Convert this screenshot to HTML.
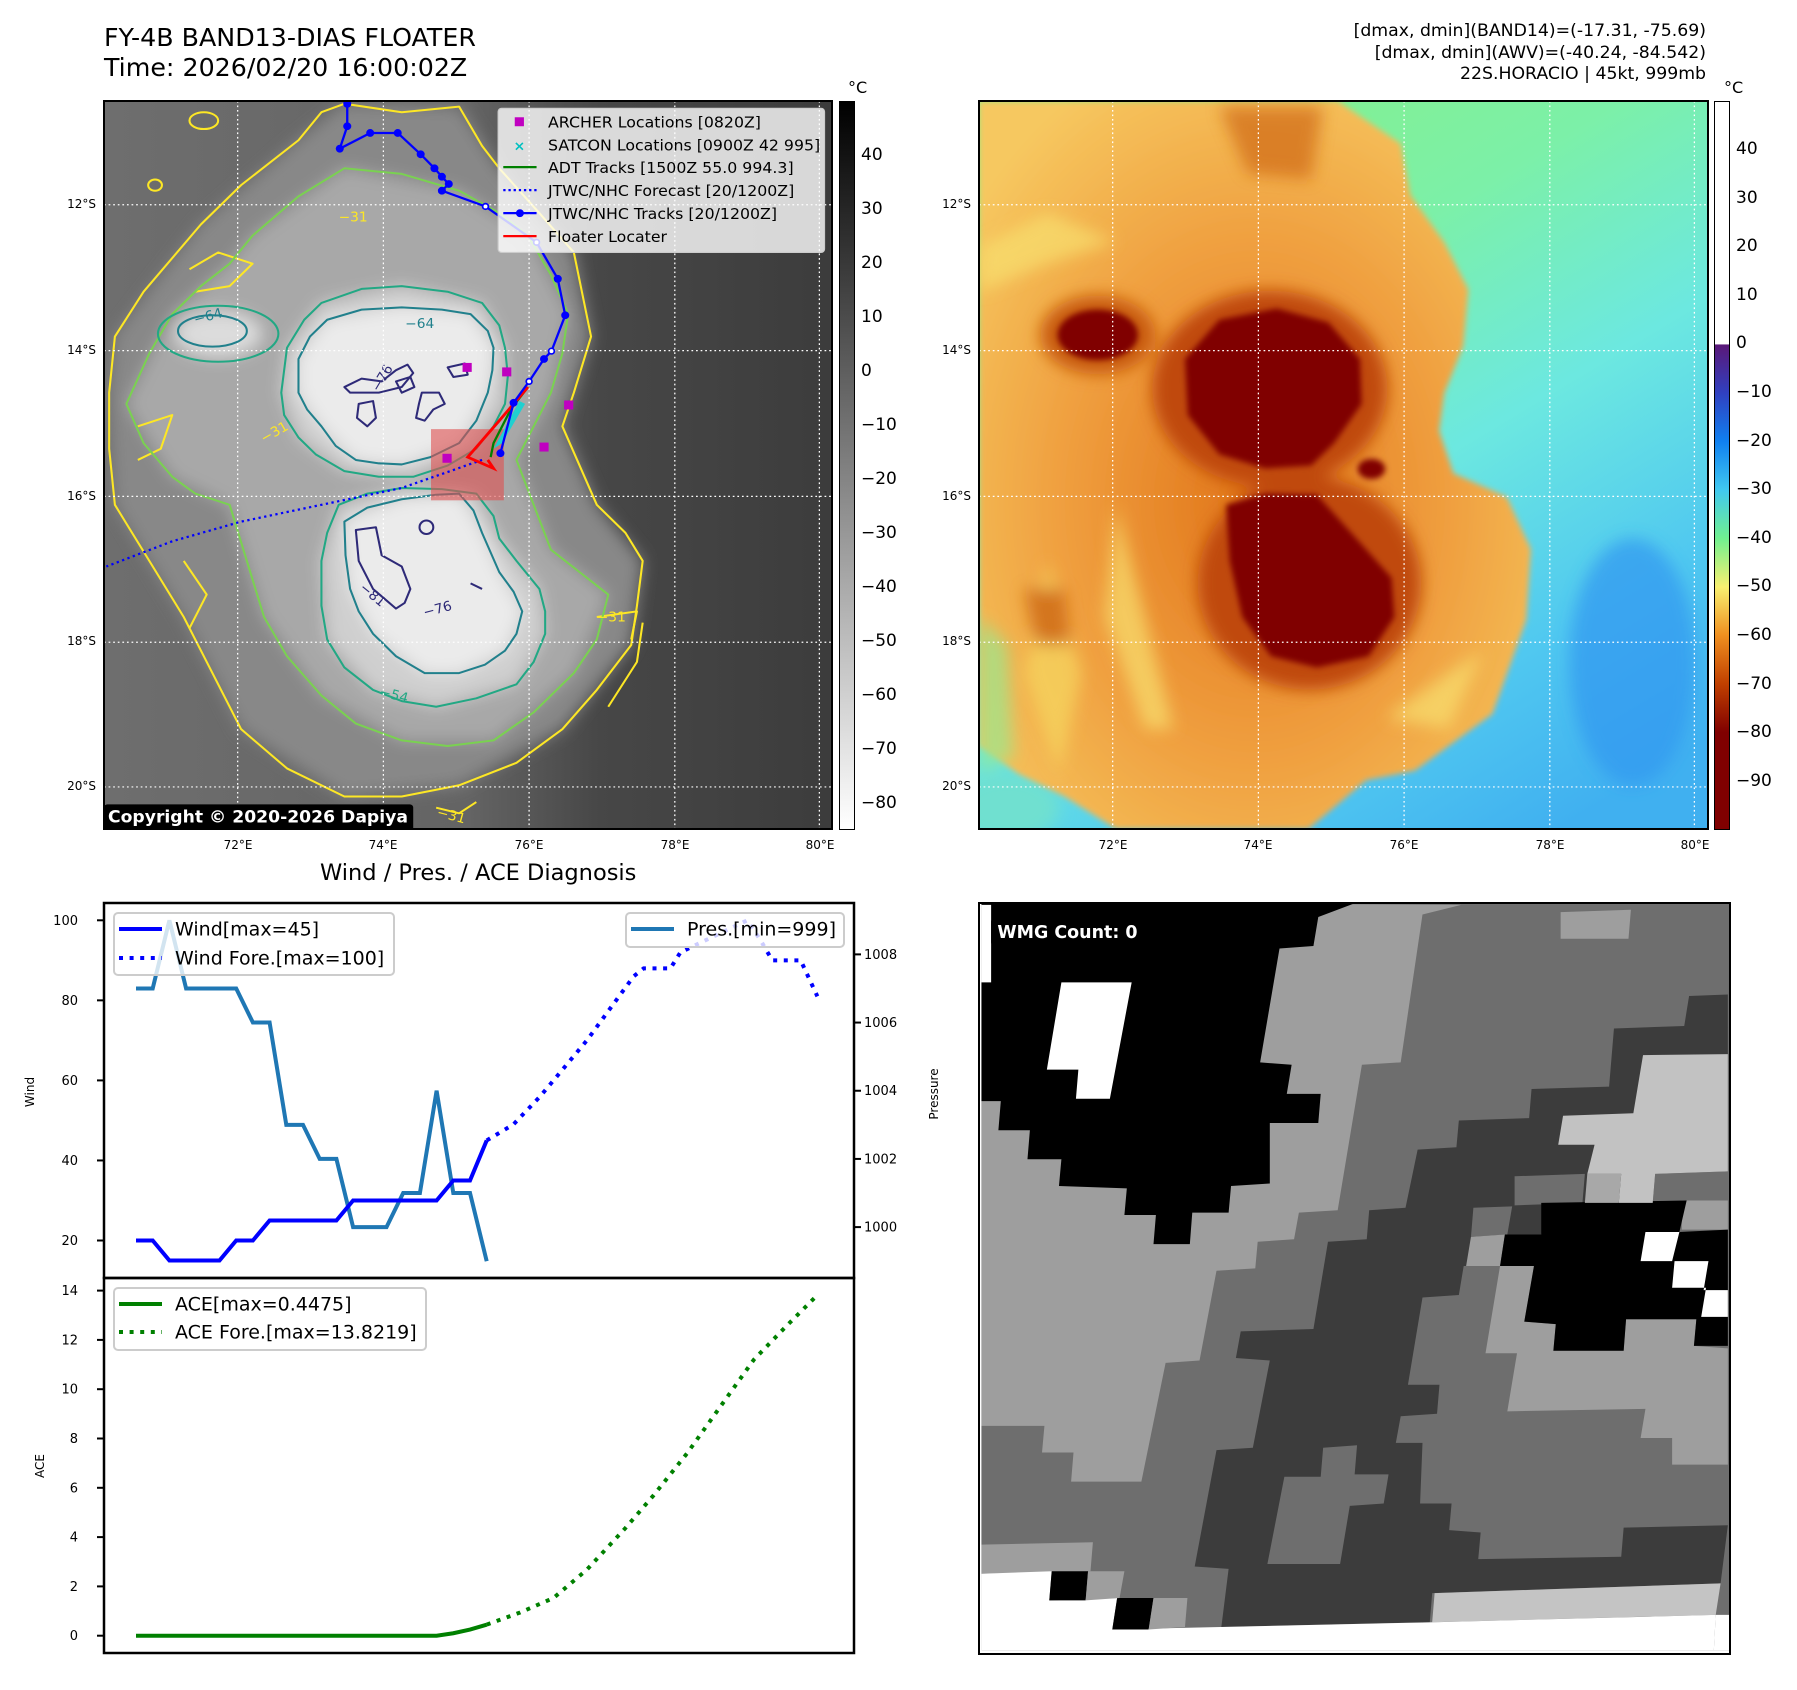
<!DOCTYPE html>
<html><head><meta charset="utf-8">
<style>
html,body{margin:0;padding:0;background:#fff;}
body{width:1797px;height:1690px;position:relative;overflow:hidden;font-family:"DejaVu Sans","Liberation Sans",sans-serif;color:#000;}
.abs{position:absolute;}
.t{position:absolute;white-space:nowrap;}
.lat{position:absolute;font-size:12px;text-align:right;width:60px;}
.lon{position:absolute;font-size:12px;width:60px;text-align:center;}
.cb{position:absolute;font-size:17px;}
</style></head>
<body>
<div class="t" style="left:104px;top:23px;font-size:25.3px;line-height:30px;">FY-4B BAND13-DIAS FLOATER<br>Time: 2026/02/20 16:00:02Z</div>
<div class="t" style="right:91px;top:21px;font-size:17.3px;line-height:21.5px;text-align:right;">[dmax, dmin](BAND14)=(-17.31, -75.69)<br>[dmax, dmin](AWV)=(-40.24, -84.542)<br>22S.HORACIO | 45kt, 999mb</div>
<div class="t" style="left:848px;top:78px;font-size:16px;">°C</div>
<div class="t" style="left:1724px;top:78px;font-size:16px;">°C</div>

<!-- LEFT MAP -->
<svg class="abs" style="left:104px;top:101px" width="728" height="728" viewBox="181 180 1269 1298" preserveAspectRatio="none">
<defs>
<linearGradient id="gbg" x1="0" x2="1" y1="0" y2="0"><stop offset="0" stop-color="#6e6e6e"/><stop offset="0.5" stop-color="#646464"/><stop offset="0.68" stop-color="#474747"/><stop offset="1" stop-color="#3c3c3c"/></linearGradient>
<filter id="bl" x="-20%" y="-20%" width="140%" height="140%"><feGaussianBlur stdDeviation="14"/></filter>
<clipPath id="cp1"><rect x="181" y="180" width="1269" height="1298"/></clipPath>
</defs>
<g clip-path="url(#cp1)">
<rect x="181" y="180" width="1269" height="1298" fill="url(#gbg)"/>
<g filter="url(#bl)">
<polygon fill="#888" points="200,600 350,400 520,250 600,185 800,190 870,300 1000,450 1030,600 980,760 1040,900 1120,1000 1100,1150 980,1300 800,1400 600,1420 420,1300 320,1100 200,900 190,700"/>
<polygon fill="#a8a8a8" points="440,420 600,300 800,340 920,420 990,560 960,700 900,820 960,980 1060,1060 1000,1200 860,1320 700,1320 560,1240 460,1100 400,900 300,850 220,720 300,560 400,470"/>
<polygon fill="#cfcfcf" points="500,620 560,540 700,510 840,540 880,620 880,720 830,800 720,850 600,840 520,780 490,700"/>
<polygon fill="#cfcfcf" points="590,900 700,870 830,880 870,960 940,1050 950,1130 900,1220 760,1260 650,1230 570,1140 560,1000"/>
<polygon fill="#ebebeb" points="520,640 570,570 700,548 820,560 860,620 850,700 800,790 700,828 620,820 560,760 520,700"/>
<polygon fill="#ebebeb" points="600,930 700,890 800,880 840,950 870,1020 910,1090 880,1160 800,1200 740,1200 650,1130 610,1050"/>
<ellipse cx="380" cy="595" rx="75" ry="40" fill="#dcdcdc"/>
</g>
<g fill="none" stroke-linejoin="round">
<polygon stroke="#fde725" stroke-width="3.6" points="200,600 250,520 350,400 420,330 520,250 560,200 600,185 700,200 800,190 840,260 870,300 940,380 1000,450 1030,600 1000,700 980,760 1010,830 1040,900 1090,950 1120,1000 1110,1080 1100,1150 1040,1230 980,1300 900,1360 800,1400 700,1420 600,1420 500,1370 420,1300 370,1200 320,1100 260,1000 200,900 190,800 190,700"/>
<polyline stroke="#fde725" stroke-width="3.6" points="1040,1100 1110,1090 1100,1140"/>
<polyline stroke="#fde725" stroke-width="3.6" points="1060,1260 1110,1180 1120,1110"/>
<ellipse cx="355" cy="215" rx="25" ry="15" stroke="#fde725" stroke-width="3.6"/>
<ellipse cx="270" cy="330" rx="12" ry="10" stroke="#fde725" stroke-width="3.6"/>
<polyline stroke="#fde725" stroke-width="3.6" points="760,1440 800,1450 830,1430"/>
<polyline stroke="#fde725" stroke-width="3.6" points="330,480 380,450 440,470 400,510 340,520"/>
<polyline stroke="#fde725" stroke-width="3.6" points="240,760 300,740 280,800 240,820"/>
<polyline stroke="#fde725" stroke-width="3.6" points="320,1000 360,1060 330,1120"/>
<polygon stroke="#7ad151" stroke-width="3.6" points="440,420 520,350 600,300 700,310 800,340 870,380 920,420 960,490 990,560 980,630 960,700 930,760 900,820 930,900 960,980 1010,1020 1060,1060 1040,1140 1000,1200 930,1270 860,1320 780,1330 700,1320 620,1290 560,1240 500,1170 460,1100 430,1000 400,900 340,880 300,850 250,790 220,720 260,630 300,560 350,510 400,470"/>
<polygon stroke="#22a884" stroke-width="3.6" points="500,620 530,570 560,540 630,515 700,510 780,520 840,540 870,580 880,620 885,670 880,720 860,760 830,800 780,830 720,850 660,850 600,840 550,810 520,780 495,740 490,700"/>
<polygon stroke="#22a884" stroke-width="3.6" points="590,900 640,880 700,870 770,872 830,880 860,920 870,960 900,1000 940,1050 950,1090 950,1130 930,1180 900,1220 830,1245 760,1260 700,1250 650,1230 600,1190 570,1140 560,1080 560,1000 570,950"/>
<ellipse cx="380" cy="595" rx="105" ry="50" stroke="#22a884" stroke-width="3.6"/>
<polygon stroke="#21808c" stroke-width="3.6" points="520,640 540,600 570,570 630,552 700,548 770,552 820,560 850,590 860,620 858,660 850,700 830,750 800,790 750,815 700,828 660,826 620,820 585,795 560,760 535,730 520,700"/>
<polygon stroke="#21808c" stroke-width="3.6" points="600,930 640,905 700,890 760,882 800,880 825,910 840,950 855,985 870,1020 895,1055 910,1090 900,1130 880,1160 845,1185 800,1200 740,1200 690,1170 650,1130 625,1090 610,1050 602,990"/>
<ellipse cx="370" cy="590" rx="60" ry="28" stroke="#21808c" stroke-width="3.6"/>
<g stroke="#2e2a78" stroke-width="3.6">
<polygon points="600,690 630,675 665,680 690,660 710,650 720,665 700,690 660,700 640,700 610,700"/>
<polygon points="690,680 715,672 722,690 700,700"/>
<polygon points="625,720 650,715 655,745 640,760 622,745"/>
<polygon points="735,700 765,700 775,720 755,730 740,750 725,745 730,720"/>
<polygon points="780,655 810,648 815,668 790,672"/>
<polygon points="620,945 655,940 665,990 700,1010 715,1050 705,1075 690,1085 650,1050 625,1000"/>
<ellipse cx="743" cy="940" rx="12" ry="12"/>
<polyline points="820,1040 840,1050"/>
</g>
</g>
<g font-family="DejaVu Sans" font-size="24">
<text x="706" y="585" fill="#21808c">−64</text>
<text x="340" y="578" fill="#21808c" transform="rotate(-15 340 578)">−64</text>
<text x="660" y="1240" fill="#22a884" transform="rotate(15 660 1240)">−54</text>
<text x="740" y="1100" fill="#2e2a78" transform="rotate(-15 740 1100)">−76</text>
<text x="625" y="1050" fill="#2e2a78" transform="rotate(40 625 1050)">−81</text>
<text x="660" y="700" fill="#2e2a78" transform="rotate(-60 660 700)">−76</text>
<text x="590" y="395" fill="#fde725">−31</text>
<text x="1040" y="1108" fill="#fde725">−31</text>
<text x="460" y="790" fill="#fde725" transform="rotate(-30 460 790)">−31</text>
<text x="760" y="1455" fill="#fde725" transform="rotate(15 760 1455)">−31</text>
</g>
<g stroke="#fff" stroke-width="2.2" stroke-dasharray="3 5">
<line x1="414" y1="180" x2="414" y2="1478"/><line x1="668" y1="180" x2="668" y2="1478"/><line x1="922" y1="180" x2="922" y2="1478"/><line x1="1176" y1="180" x2="1176" y2="1478"/><line x1="1428" y1="180" x2="1428" y2="1478"/>
<line x1="181" y1="365" x2="1450" y2="365"/><line x1="181" y1="625" x2="1450" y2="625"/><line x1="181" y1="885" x2="1450" y2="885"/><line x1="181" y1="1145" x2="1450" y2="1145"/><line x1="181" y1="1403" x2="1450" y2="1403"/>
</g>
<rect x="751" y="765" width="127" height="127" fill="#e05050" opacity="0.6"/>
<polyline points="840,820 700,870 560,900 420,930 300,965 185,1010" fill="none" stroke="#0000ff" stroke-width="4" stroke-dasharray="4 6"/>
<polyline points="920,690 890,730 860,790 855,815" fill="none" stroke="#008000" stroke-width="4"/>
<polygon points="905,715 860,800 875,790 915,720" fill="#20d0d0"/>
<polyline points="920,690 870,750 815,815 860,835 850,820" fill="none" stroke="#ff0000" stroke-width="5"/>
<polyline points="605,185 605,225 592,265 645,237 693,237 733,275 757,300 770,315 782,328 770,340 846,368 935,432 972,497 985,562 961,626 948,640 922,680 895,718 872,808" fill="none" stroke="#0000ff" stroke-width="4"/>
<g fill="#0000ff">
<circle cx="605" cy="185" r="7"/><circle cx="605" cy="225" r="7"/><circle cx="592" cy="265" r="7"/><circle cx="645" cy="237" r="7"/><circle cx="693" cy="237" r="7"/><circle cx="733" cy="275" r="7"/><circle cx="757" cy="300" r="7"/><circle cx="770" cy="315" r="7"/><circle cx="782" cy="328" r="7"/><circle cx="770" cy="340" r="7"/><circle cx="972" cy="497" r="7"/><circle cx="985" cy="562" r="7"/><circle cx="948" cy="640" r="7"/><circle cx="895" cy="718" r="7"/><circle cx="872" cy="808" r="7"/>
</g>
<g fill="#fff" stroke="#0000ff" stroke-width="3"><circle cx="846" cy="368" r="5"/><circle cx="935" cy="432" r="5"/><circle cx="961" cy="626" r="5"/><circle cx="922" cy="680" r="5"/></g>
<g fill="#c000c0"><rect x="806" y="647" width="16" height="16"/><rect x="875" y="655" width="16" height="16"/><rect x="983" y="714" width="16" height="16"/><rect x="940" y="789" width="16" height="16"/><rect x="771" y="809" width="16" height="16"/></g>
<g>
<rect x="868" y="193" width="569" height="257" rx="6" fill="#fff" fill-opacity="0.8" stroke="#ccc" stroke-width="2"/>
<rect x="897" y="209" width="16" height="16" fill="#c000c0"/>
<text x="895" y="268" font-size="24" fill="#00c0c0" font-weight="bold">×</text>
<line x1="877" y1="298" x2="935" y2="298" stroke="#008000" stroke-width="4"/>
<line x1="877" y1="339" x2="935" y2="339" stroke="#0000ff" stroke-width="4" stroke-dasharray="4 5"/>
<line x1="877" y1="380" x2="935" y2="380" stroke="#0000ff" stroke-width="4"/><circle cx="906" cy="380" r="7" fill="#0000ff"/>
<line x1="877" y1="421" x2="935" y2="421" stroke="#ff0000" stroke-width="4"/>
<g font-family="DejaVu Sans" font-size="27.5" fill="#000">
<text x="955" y="227">ARCHER Locations [0820Z]</text>
<text x="955" y="268">SATCON Locations [0900Z 42 995]</text>
<text x="955" y="308">ADT Tracks [1500Z 55.0 994.3]</text>
<text x="955" y="349">JTWC/NHC Forecast [20/1200Z]</text>
<text x="955" y="390">JTWC/NHC Tracks [20/1200Z]</text>
<text x="955" y="431">Floater Locater</text>
</g></g>
<rect x="181" y="1434" width="539" height="50" rx="6" fill="#000"/>
<text x="188" y="1466" font-family="DejaVu Sans" font-weight="bold" font-size="30" fill="#fff">Copyright © 2020-2026 Dapiya</text>
</g>
</svg>
<div class="abs" style="left:103px;top:100px;width:726px;height:726px;border:2px solid #000;"></div>
<div class="abs" style="left:839px;top:101px;width:14px;height:727px;border:1px solid #000;background:linear-gradient(#000,#fff);"></div>

<!-- RIGHT MAP -->
<svg class="abs" style="left:979px;top:101px" width="728" height="728" viewBox="181 180 1269 1298" preserveAspectRatio="none">
<defs>
<linearGradient id="gcol" x1="0.2" y1="0" x2="0.8" y2="1"><stop offset="0" stop-color="#86f088"/><stop offset="0.3" stop-color="#7cf0a8"/><stop offset="0.55" stop-color="#6ce8e0"/><stop offset="0.8" stop-color="#50c8f0"/><stop offset="1" stop-color="#40b0f0"/></linearGradient>
<radialGradient id="gor" cx="0.5" cy="0.55" r="0.65"><stop offset="0" stop-color="#e07418"/><stop offset="0.55" stop-color="#f0a040"/><stop offset="1" stop-color="#f6c860"/></radialGradient>
<filter id="rb" x="-20%" y="-20%" width="140%" height="140%"><feGaussianBlur stdDeviation="14"/></filter>
<filter id="rb2" x="-20%" y="-20%" width="140%" height="140%"><feGaussianBlur stdDeviation="5"/></filter>
<clipPath id="cp2"><rect x="181" y="180" width="1269" height="1298"/></clipPath>
</defs>
<g clip-path="url(#cp2)">
<rect x="181" y="180" width="1269" height="1298" fill="url(#gcol)"/>
<ellipse cx="1320" cy="1180" rx="110" ry="220" fill="#3098f0" opacity="0.7" filter="url(#rb)"/>
<ellipse cx="230" cy="1440" rx="90" ry="60" fill="#70e0d0" filter="url(#rb)"/>
<polygon fill="url(#gor)" filter="url(#rb2)" points="181,180 806,180 916,256 933,348 992,432 1034,516 1025,617 992,701 983,768 1008,844 1101,886 1143,979 1135,1105 1076,1273 941,1374 856,1391 755,1478 420,1478 330,1420 250,1380 181,1330"/>
<g filter="url(#rb)" opacity="0.7">
<polygon fill="#f8e070" points="181,440 300,380 420,430 300,470 181,520"/>
<polygon fill="#f8e070" points="420,900 470,1100 520,1300 470,1300 400,1100"/>
<polygon fill="#f6d860" points="300,1000 360,1200 320,1380 260,1200"/>
<polygon fill="#f8e070" points="890,1280 1000,1200 1060,1160 1000,1300"/>
<polygon fill="#d06a18" points="600,190 780,190 760,320 650,310"/>
<polygon fill="#c86010" points="260,1050 330,1050 340,1150 280,1150"/>
<polygon fill="#98e890" points="181,1100 230,1150 240,1350 181,1380"/>
</g>
<g filter="url(#rb)">
<ellipse cx="688" cy="693" rx="205" ry="175" fill="#c04a08"/>
<ellipse cx="757" cy="1040" rx="195" ry="190" fill="#c04a08"/>
<ellipse cx="388" cy="597" rx="100" ry="70" fill="#c85a10"/>
</g>
<g filter="url(#rb2)" fill="#800000">
<polygon points="540,640 600,570 700,550 790,575 845,640 848,720 800,790 760,830 680,835 600,810 545,740"/>
<polygon points="612,900 680,880 770,882 830,950 900,1030 905,1100 860,1170 770,1190 690,1170 640,1100 618,1000"/>
<ellipse cx="388" cy="597" rx="70" ry="45"/>
<ellipse cx="865" cy="836" rx="24" ry="18"/>
</g>
<g stroke="#fff" stroke-width="2.2" stroke-dasharray="3 5">
<line x1="414" y1="180" x2="414" y2="1478"/><line x1="668" y1="180" x2="668" y2="1478"/><line x1="922" y1="180" x2="922" y2="1478"/><line x1="1176" y1="180" x2="1176" y2="1478"/><line x1="1428" y1="180" x2="1428" y2="1478"/>
<line x1="181" y1="365" x2="1450" y2="365"/><line x1="181" y1="625" x2="1450" y2="625"/><line x1="181" y1="885" x2="1450" y2="885"/><line x1="181" y1="1145" x2="1450" y2="1145"/><line x1="181" y1="1403" x2="1450" y2="1403"/>
</g>
</g>
</svg>
<div class="abs" style="left:978px;top:100px;width:727px;height:726px;border:2px solid #000;"></div>
<div class="abs" style="left:1714px;top:101px;width:14px;height:727px;border:1px solid #000;background:linear-gradient(#fff 0%,#fff 33.3%,#5a1878 33.4%,#3040c0 40%,#1080f0 46.7%,#40c8f0 53.3%,#70f090 60%,#f8f070 66.7%,#f09020 73.3%,#c04000 80%,#800000 86.7%,#800000 100%);"></div>

<!-- BOTTOM RIGHT -->
<svg class="abs" style="left:979px;top:900px" width="760" height="760" viewBox="0 0 1568 1568" preserveAspectRatio="none">
<defs><clipPath id="cp3"><rect x="5" y="5" width="1543" height="1543"/></clipPath></defs>
<g clip-path="url(#cp3)">
<rect x="0" y="0" width="1568" height="1568" fill="#6e6e6e"/>
<polygon fill="#9e9e9e" points="5,415 5,5 995,10 915,30 870,335 790,340 740,640 660,645 650,700 575,705 570,760 490,765 455,950 385,955 335,1200 190,1200 195,1140 130,1140 135,1085 5,1085"/>
<polygon fill="#000" points="5,5 780,5 700,35 690,95 620,100 580,335 645,340 635,400 705,400 700,460 600,460 600,585 520,590 515,645 440,645 435,710 360,710 365,650 300,650 305,595 165,590 170,535 100,535 105,475 40,475 45,415 5,415"/>
<polygon fill="#fff" points="170,170 315,170 270,410 200,410 205,350 140,350"/>
<polygon fill="#fff" points="5,10 25,10 25,170 5,170"/>
<polygon fill="#9e9e9e" points="1200,25 1345,20 1340,80 1200,80"/>
<polygon fill="#3c3c3c" points="1310,265 1455,260 1465,198 1545,195 1545,560 1395,565 1390,625 1170,630 1160,690 1085,690 1075,755 1000,755 990,815 915,820 885,1000 950,1000 945,1060 870,1065 860,1120 915,1120 910,1245 975,1245 970,1300 1035,1305 1030,1360 1325,1355 1330,1295 1545,1290 1530,1410 935,1430 930,1490 500,1500 515,1380 445,1375 490,1135 565,1130 600,950 530,945 540,890 690,885 720,705 800,700 805,640 880,635 905,515 985,510 990,455 1135,450 1140,390 1300,385"/>
<polygon fill="#6e6e6e" points="1105,570 1250,565 1245,625 1105,630"/>
<polygon fill="#6e6e6e" points="710,1130 780,1125 775,1185 845,1185 835,1245 765,1250 745,1370 595,1370 630,1190 705,1190"/>
<polygon fill="#9e9e9e" points="1045,935 1110,935 1090,1055 1375,1050 1365,1110 1430,1110 1430,1165 1545,1165 1545,925 1475,920 1480,865 1335,865 1330,930 1185,930 1190,875 1125,870 1145,755 1075,755"/>
<polygon fill="#9e9e9e" points="1450,620 1545,620 1545,680 1450,680"/>
<polygon fill="#6e6e6e" points="1020,635 1100,632 1090,690 1015,695"/>
<polygon fill="#9e9e9e" points="1015,695 1085,690 1075,755 1005,755"/>
<polygon fill="#000" points="1160,625 1460,620 1445,685 1545,680 1545,920 1475,920 1480,865 1335,865 1330,930 1185,930 1190,875 1125,870 1145,755 1075,755 1085,690 1160,690"/>
<polygon fill="#fff" points="1375,685 1445,685 1430,745 1505,745 1495,805 1545,805 1545,860 1490,860 1500,800 1430,800 1435,745 1365,745"/>
<polygon fill="#c2c2c2" points="1370,320 1545,318 1545,560 1395,565 1390,625 1320,625 1325,565 1255,565 1270,505 1195,505 1205,445 1350,440"/>
<polygon fill="#a8a8a8" points="1255,565 1325,565 1320,625 1250,625"/>
<polygon fill="#9e9e9e" points="5,1330 235,1325 230,1385 5,1390"/>
<polygon fill="#c4c4c4" points="940,1430 1530,1410 1520,1475 935,1490"/>
<polygon fill="#fff" points="5,1390 150,1385 145,1445 285,1440 275,1505 940,1490 1520,1475 1515,1568 5,1568"/>
<polygon fill="#000" points="150,1385 225,1385 220,1445 145,1445"/>
<polygon fill="#000" points="285,1440 360,1440 350,1505 275,1505"/>
<polygon fill="#9e9e9e" points="225,1385 300,1385 290,1440 220,1445"/>
<polygon fill="#9e9e9e" points="360,1440 430,1440 425,1500 350,1505"/>
<polygon fill="#fff" points="1520,1475 1548,1475 1548,1568 1515,1568"/>
</g>
<rect x="25" y="35" width="365" height="62" rx="10" fill="#000"/>
<text x="38" y="78" font-family="DejaVu Sans" font-weight="bold" font-size="36" fill="#fff">WMG Count: 0</text>
</svg>
<div class="abs" style="left:978px;top:902px;width:749px;height:749px;border:2px solid #000;"></div>

<!-- BOTTOM LEFT CHART -->
<div class="t" style="left:320px;top:860px;font-size:22.5px;">Wind / Pres. / ACE Diagnosis</div>
<svg class="abs" id="chart" style="left:0;top:880px" width="960" height="800" viewBox="0 880 960 800"></svg>

<div id="labels"></div>
<script>
// ---- chart data ----
const obsIdx = [0,1,2,3,4,5,6,7,8,9,10,11,12,13,14,15,16,17,18,19,20,21];
const windObs = [20,20,15,15,15,15,20,20,25,25,25,25,25,30,30,30,30,30,30,35,35,45];
const presObs = [1007,1007,1009,1007,1007,1007,1007,1006,1006,1003,1003,1002,1002,1000,1000,1000,1001,1001,1004,1001,1001,999];
const foreIdx = [21,22.6,24.2,27,29.8,30.4,32,32.6,36.6,37.4,38.1,39.8,40.8];
const windFore = [45,49,56,70,86,88,88,92,100,95,90,90,81];
const aceObs = [0,0,0,0,0,0,0,0,0,0,0,0,0,0,0,0,0,0,0,0.1,0.25,0.4475];
const aceForeIdx = [21,23,25,27,29.3,31,33,35,37,39,40.8];
const aceFore = [0.4475,0.94,1.53,2.68,4.36,5.7,7.4,9.3,11.2,12.6,13.82];
const windTicks = [20,40,60,80,100];
const presTicks = [1000,1002,1004,1006,1008];
const aceTicks = [0,2,4,6,8,10,12,14];

const X = i => 136 + i*16.70;
const Yw = v => 1240.5 - (v-20)*4.0025;
const Yp = v => 1227.1 - (v-1000)*34.09;
const Ya = v => 1635.7 - v*24.65;
const NS = 'http://www.w3.org/2000/svg';
const svg = document.getElementById('chart');
function mk(tag, attrs){const e=document.createElementNS(NS,tag);for(const k in attrs)e.setAttribute(k,attrs[k]);svg.appendChild(e);return e;}
function pts(xs,ys,fy){return xs.map((x,i)=>X(x)+','+fy(ys[i])).join(' ');}

let e;
e = mk('rect',{x:104,y:903,width:750,height:750,fill:'#fff'});


e = mk('polyline',{points:pts(obsIdx,presObs,Yp),fill:'none',stroke:'#1f77b4','stroke-width':4});


e = mk('polyline',{points:pts(obsIdx,windObs,Yw),fill:'none',stroke:'#0000ff','stroke-width':4});


e = mk('polyline',{points:pts(foreIdx,windFore,Yw),fill:'none',stroke:'#0000ff','stroke-width':4,'stroke-dasharray':'4 6.6'});


e = mk('polyline',{points:pts(obsIdx,aceObs,Ya),fill:'none',stroke:'#008000','stroke-width':4});


e = mk('polyline',{points:pts(aceForeIdx,aceFore,Ya),fill:'none',stroke:'#008000','stroke-width':4,'stroke-dasharray':'4 6.6'});



e = mk('rect',{x:104,y:903,width:750,height:375,fill:'none',stroke:'#000','stroke-width':2.5});


e = mk('rect',{x:104,y:1278,width:750,height:375,fill:'none',stroke:'#000','stroke-width':2.5});



function tickL(y,label,name){
  const l = mk('line',{x1:97,y1:y,x2:104,y2:y,stroke:'#000','stroke-width':2});
  
  
  const t = mk('text',{x:78,y:y+4.5,'font-size':13,'text-anchor':'end','font-family':'DejaVu Sans'});
  t.textContent = label;
  
  
}
windTicks.forEach(v=>tickL(Yw(v),v,'wind-axis'));
aceTicks.forEach(v=>tickL(Ya(v),v,'ace-axis'));
presTicks.forEach(v=>{
  const y=Yp(v);
  const l = mk('line',{x1:854,y1:y,x2:861,y2:y,stroke:'#000','stroke-width':2});
  
  
  const t = mk('text',{x:864,y:y+4.5,'font-size':13,'font-family':'DejaVu Sans'});
  t.textContent = v;
  
  
});
function rot(x,y,s,name){
  const t = mk('text',{x:x,y:y,'font-size':12,'text-anchor':'middle','font-family':'DejaVu Sans',transform:'rotate(-90 '+x+' '+y+')'});
  t.textContent=s;
  
  
}
rot(34,1092,'Wind','wind-axis-title');
rot(938,1094,'Pressure','pressure-axis-title');
rot(44,1466,'ACE','ace-axis-title');

function legendBox(x,y,w,h,name){
  const r = mk('rect',{x:x,y:y,width:w,height:h,rx:4,fill:'#fff','fill-opacity':0.8,stroke:'#ccc','stroke-width':2});
  
  
}
function legEntry(y,color,dash,label,tx,name){
  const l = mk('line',{x1:tx-56,y1:y,x2:tx-13,y2:y,stroke:color,'stroke-width':4});
  if(dash) l.setAttribute('stroke-dasharray','4 6.6');
  
  
  const t = mk('text',{x:tx,y:y+6.5,'font-size':19,'font-family':'DejaVu Sans'});
  t.textContent=label;
  
  
}
legendBox(114,913,280,62,'wind-legend');
legEntry(929,'#0000ff',false,'Wind[max=45]',175,'legend-wind');
legEntry(958,'#0000ff',true,'Wind Fore.[max=100]',175,'legend-wind-forecast');
legendBox(626,913,218,34,'pressure-legend');
legEntry(929,'#1f77b4',false,'Pres.[min=999]',687,'legend-pressure');
legendBox(114,1288,312,62,'ace-legend');
legEntry(1304,'#008000',false,'ACE[max=0.4475]',175,'legend-ace');
legEntry(1332,'#008000',true,'ACE Fore.[max=13.8219]',175,'legend-ace-forecast');

const lats = ['12°S','14°S','16°S','18°S','20°S'];
const latY = [205,351,497,642,787];
const lons = ['72°E','74°E','76°E','78°E','80°E'];
const lonX = [238,383,529,675,820];
const lcb = [40,30,20,10,0,-10,-20,-30,-40,-50,-60,-70,-80];
const rcb = [40,30,20,10,0,-10,-20,-30,-40,-50,-60,-70,-80,-90];
const L = document.getElementById('labels');
function div(cls,style,txt,name){
  const d=document.createElement('div');d.className=cls;d.style.cssText=style;d.textContent=txt;
  
  
  L.appendChild(d);
}
[0,875].forEach((off,k)=>{
  lats.forEach((s,i)=>div('lat','left:'+(36+off)+'px;top:'+(latY[i]-8)+'px;',s,'lat-label'));
  lons.forEach((s,i)=>div('lon','left:'+(lonX[i]+off-30)+'px;top:838px;',s,'lon-label'));
});
lcb.forEach(v=>div('cb','left:861px;top:'+(156+(40-v)*5.397-11)+'px;',String(v).replace('-','−'),'left-colorbar-tick-label'));
rcb.forEach(v=>div('cb','left:1736px;top:'+(150+(40-v)*4.86-11)+'px;',String(v).replace('-','−'),'right-colorbar-tick-label'));
</script>
</body></html>
